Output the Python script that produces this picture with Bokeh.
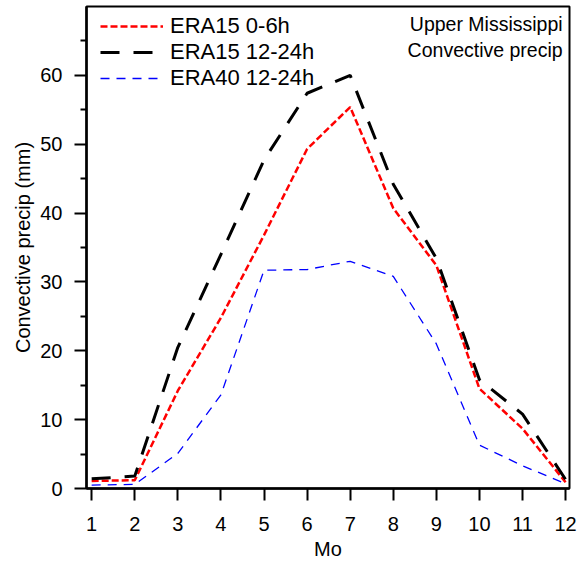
from bokeh.plotting import figure
from bokeh.models import Range1d, FixedTicker, Legend, LegendItem, Label
from bokeh.embed import file_html
from bokeh.resources import INLINE

# Monthly convective precipitation, Upper Mississippi (mm)
months = [1, 2, 3, 4, 5, 6, 7, 8, 9, 10, 11, 12]
era15_0_6h = [1.1, 1.2, 14.2, 24.8, 36.8, 49.3, 55.4, 40.7, 32.4, 14.5, 8.7, 0.9]
era15_12_24h = [1.4, 1.8, 20.5, 34.0, 47.7, 57.4, 60.0, 44.2, 33.4, 15.8, 10.8, 1.3]
era40_12_24h = [0.5, 0.6, 5.1, 13.6, 31.7, 31.8, 33.0, 30.8, 21.0, 6.3, 3.3, 0.7]

y_ticks = [0, 10, 20, 30, 40, 50, 60]
series_names = ["ERA15 0-6h", "ERA15 12-24h", "ERA40 12-24h"]
title_lines = ["Upper Mississippi", "Convective precip"]

FONT = "Liberation Sans"
FRAME_H = 482

p = figure(width=582, height=562, output_backend="svg", toolbar_location=None,
           x_range=Range1d(0.88, 12.09), y_range=Range1d(0, 70),
           min_border_left=86, min_border_right=13, min_border_top=6, min_border_bottom=74)
p.grid.visible = False
p.outline_line_color = "black"
p.outline_line_width = 2
p.background_fill_color = "white"
p.border_fill_color = "white"

r1 = p.line(months, era15_0_6h, line_color="#ff0000", line_width=2.5, line_dash="7 3")
r2 = p.line(months, era15_12_24h, line_color="black", line_width=3, line_dash="19 14")
r3 = p.line(months, era40_12_24h, line_color="#0000ff", line_width=1.3, line_dash="9 7")

# axes
xa = p.xaxis[0]
xa.ticker = FixedTicker(ticks=months)
xa.axis_label = "Mo"
ya = p.yaxis[0]
ya.ticker = FixedTicker(ticks=y_ticks, minor_ticks=[5, 15, 25, 35, 45, 55, 65])
ya.axis_label = "Convective precip (mm)"
for ax in (xa, ya):
    ax.axis_line_width = 2.5
    ax.major_tick_line_width = 2
    ax.minor_tick_line_width = 2
    ax.major_tick_in = 0
    ax.major_tick_out = 12
    ax.minor_tick_in = 0
    ax.minor_tick_out = 6
    ax.major_label_text_font = FONT
    ax.major_label_text_font_size = "20px"
    ax.major_label_text_color = "black"
    ax.axis_label_text_font = FONT
    ax.axis_label_text_font_size = "20px"
    ax.axis_label_text_font_style = "normal"
    ax.axis_label_text_color = "black"
xa.minor_tick_out = 0
xa.major_label_standoff = 16
xa.axis_label_standoff = 4
ya.major_label_standoff = 12
ya.axis_label_standoff = 3

# one single-row legend per series, stacked in the upper left
row_tops = [8, 34, 60]
for name, rend, top in zip(series_names, [r1, r2, r3], row_tops):
    lg = Legend(items=[LegendItem(label=name, renderers=[rend])],
                location=(14, FRAME_H - top - 25))
    lg.border_line_color = None
    lg.background_fill_alpha = 0
    lg.margin = 0
    lg.padding = 0
    lg.spacing = 0
    lg.glyph_width = 63
    lg.glyph_height = 20
    lg.label_height = 20
    lg.label_standoff = 7
    lg.label_text_font = FONT
    lg.label_text_font_size = "22px"
    lg.label_text_color = "black"
    p.add_layout(lg)

for i, txt in enumerate(title_lines):
    p.add_layout(Label(x=11.93, y=67.5 - 3.78 * i, text=txt, text_align="right",
                       text_baseline="middle", text_font=FONT,
                       text_font_size="19.5px", text_color="black"))

open("out.html", "w").write(file_html(p, INLINE))
